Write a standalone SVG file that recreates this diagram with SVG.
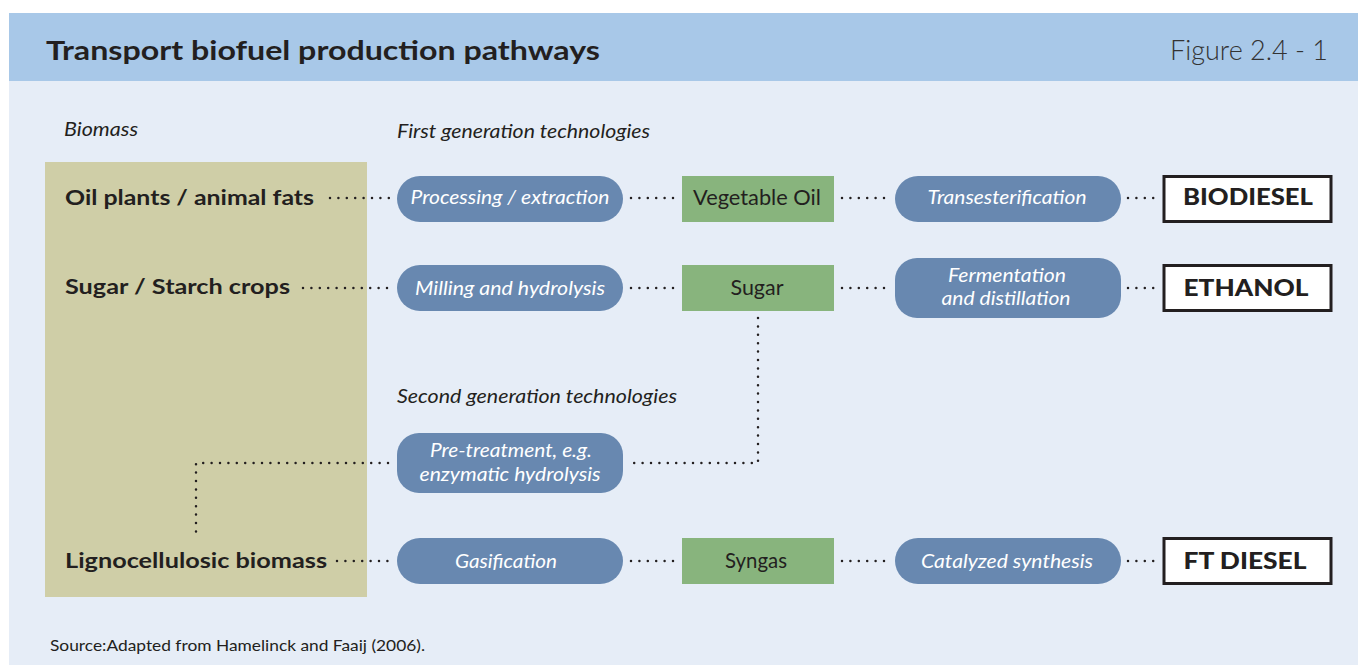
<svg xmlns="http://www.w3.org/2000/svg" width="1358" height="665" viewBox="0 0 1358 665">
  <style>
    .band { fill: #a8c8e8; }
    .panel { fill: #e6edf7; }
    .biomass { fill: #cfcea7; }
    .tech { fill: #6888b0; }
    .prod { fill: #88b47d; }
    .fuel { fill: #ffffff; stroke: #231f20; stroke-width: 3; }
    .dots { fill: none; stroke: #231f20; stroke-width: 2.5; stroke-linecap: round; stroke-dasharray: 0 8.4; }
    text { font-family: Lato, "Liberation Sans", sans-serif; fill: #231f20; }
    .title { font-size: 27px; font-weight: bold; }
    .fig { font-size: 27px; font-weight: 300; fill: #333333; }
    .head { font-size: 19px; font-style: italic; }
    .src { font-size: 16px; }
    .label { font-size: 21px; font-weight: bold; }
    .ttext { font-size: 20px; font-style: italic; fill: #ffffff; text-anchor: middle; }
    .ptext { font-size: 21px; text-anchor: middle; }
    .ftext { font-size: 22px; font-weight: 900; text-anchor: middle; }
  </style>

  <!-- header band and panel -->
  <rect class="panel" x="9" y="81" width="1349" height="584"/>
  <rect class="band" x="9" y="13" width="1349" height="68"/>
  <text class="title" x="46" y="60" textLength="554" lengthAdjust="spacingAndGlyphs">Transport biofuel production pathways</text>
  <text class="fig" x="1328" y="60" text-anchor="end">Figure 2.4 - 1</text>

  <!-- column headings -->
  <text class="head" x="64" y="136" textLength="74" lengthAdjust="spacingAndGlyphs">Biomass</text>
  <text class="head" x="397" y="138" textLength="253" lengthAdjust="spacingAndGlyphs">First generation technologies</text>
  <text class="head" x="397" y="403" textLength="280" lengthAdjust="spacingAndGlyphs">Second generation technologies</text>

  <!-- biomass sources background -->
  <g id="biomass">
    <rect class="biomass" x="45" y="162" width="322" height="435"/>
  </g>

  <!-- connectors -->
  <g id="connectors">
    <path class="dots" d="M330 198 H390"/>
    <path class="dots" d="M631 198 H675"/>
    <path class="dots" d="M842 198 H886"/>
    <path class="dots" d="M1128 198 H1154"/>

    <path class="dots" d="M303 288 H388"/>
    <path class="dots" d="M631 288 H675"/>
    <path class="dots" d="M842 288 H886"/>
    <path class="dots" d="M1128 288 H1154"/>

    <path class="dots" d="M758 318 V463 H628"/>
    <path class="dots" d="M388 463 H196 V538"/>

    <path class="dots" d="M337 561 H388"/>
    <path class="dots" d="M631 561 H675"/>
    <path class="dots" d="M842 561 H886"/>
    <path class="dots" d="M1128 561 H1154"/>
  </g>

  <g id="oil-plants">
    <text class="label" x="65" y="205" textLength="249" lengthAdjust="spacingAndGlyphs">Oil plants / animal fats</text>
  </g>
  <g id="sugar-crops">
    <text class="label" x="65" y="294" textLength="225" lengthAdjust="spacingAndGlyphs">Sugar / Starch crops</text>
  </g>
  <g id="lignocellulosic">
    <text class="label" x="65" y="568" textLength="262" lengthAdjust="spacingAndGlyphs">Lignocellulosic biomass</text>
  </g>

  <!-- conversion technologies -->
  <g id="processing">
    <rect class="tech" x="397" y="176" width="226" height="46" rx="23"/>
    <text class="ttext" x="510" y="204" textLength="199" lengthAdjust="spacingAndGlyphs">Processing / extraction</text>
  </g>
  <g id="milling">
    <rect class="tech" x="397" y="265" width="226" height="46" rx="23"/>
    <text class="ttext" x="510" y="295" textLength="190" lengthAdjust="spacingAndGlyphs">Milling and hydrolysis</text>
  </g>
  <g id="pretreatment">
    <rect class="tech" x="397" y="433" width="226" height="60" rx="22"/>
    <text class="ttext" x="511" y="457" textLength="162" lengthAdjust="spacingAndGlyphs">Pre-treatment, e.g.</text>
    <text class="ttext" x="510" y="481" textLength="181" lengthAdjust="spacingAndGlyphs">enzymatic hydrolysis</text>
  </g>
  <g id="gasification">
    <rect class="tech" x="397" y="538" width="226" height="46" rx="23"/>
    <text class="ttext" x="506" y="568" textLength="102" lengthAdjust="spacingAndGlyphs">Gasification</text>
  </g>

  <!-- intermediate products -->
  <g id="vegetable-oil">
    <rect class="prod" x="682" y="176" width="152" height="46"/>
    <text class="ptext" x="757" y="205" textLength="128" lengthAdjust="spacingAndGlyphs">Vegetable Oil</text>
  </g>
  <g id="sugar">
    <rect class="prod" x="682" y="265" width="152" height="46"/>
    <text class="ptext" x="757" y="295" textLength="53" lengthAdjust="spacingAndGlyphs">Sugar</text>
  </g>
  <g id="syngas">
    <rect class="prod" x="682" y="538" width="152" height="46"/>
    <text class="ptext" x="756" y="568" textLength="62" lengthAdjust="spacingAndGlyphs">Syngas</text>
  </g>

  <!-- upgrading technologies -->
  <g id="transesterification">
    <rect class="tech" x="895" y="176" width="226" height="46" rx="23"/>
    <text class="ttext" x="1007" y="204" textLength="159" lengthAdjust="spacingAndGlyphs">Transesterification</text>
  </g>
  <g id="fermentation">
    <rect class="tech" x="895" y="258" width="226" height="60" rx="22"/>
    <text class="ttext" x="1007" y="282" textLength="118" lengthAdjust="spacingAndGlyphs">Fermentation</text>
    <text class="ttext" x="1006" y="305" textLength="129" lengthAdjust="spacingAndGlyphs">and distillation</text>
  </g>
  <g id="catalyzed-synthesis">
    <rect class="tech" x="895" y="538" width="226" height="46" rx="23"/>
    <text class="ttext" x="1007" y="568" textLength="172" lengthAdjust="spacingAndGlyphs">Catalyzed synthesis</text>
  </g>

  <!-- transport fuels -->
  <g id="biodiesel">
    <rect class="fuel" x="1164" y="176.5" width="167" height="45"/>
    <text class="ftext" x="1248" y="205" textLength="130" lengthAdjust="spacingAndGlyphs">BIODIESEL</text>
  </g>
  <g id="ethanol">
    <rect class="fuel" x="1164" y="265.5" width="167" height="45"/>
    <text class="ftext" x="1246" y="296" textLength="125" lengthAdjust="spacingAndGlyphs">ETHANOL</text>
  </g>
  <g id="ft-diesel">
    <rect class="fuel" x="1164" y="538.5" width="167" height="45"/>
    <text class="ftext" x="1245" y="569" textLength="123" lengthAdjust="spacingAndGlyphs">FT DIESEL</text>
  </g>

  <text class="src" x="50" y="651" textLength="375" lengthAdjust="spacingAndGlyphs">Source:Adapted from Hamelinck and Faaij (2006).</text>
</svg>
